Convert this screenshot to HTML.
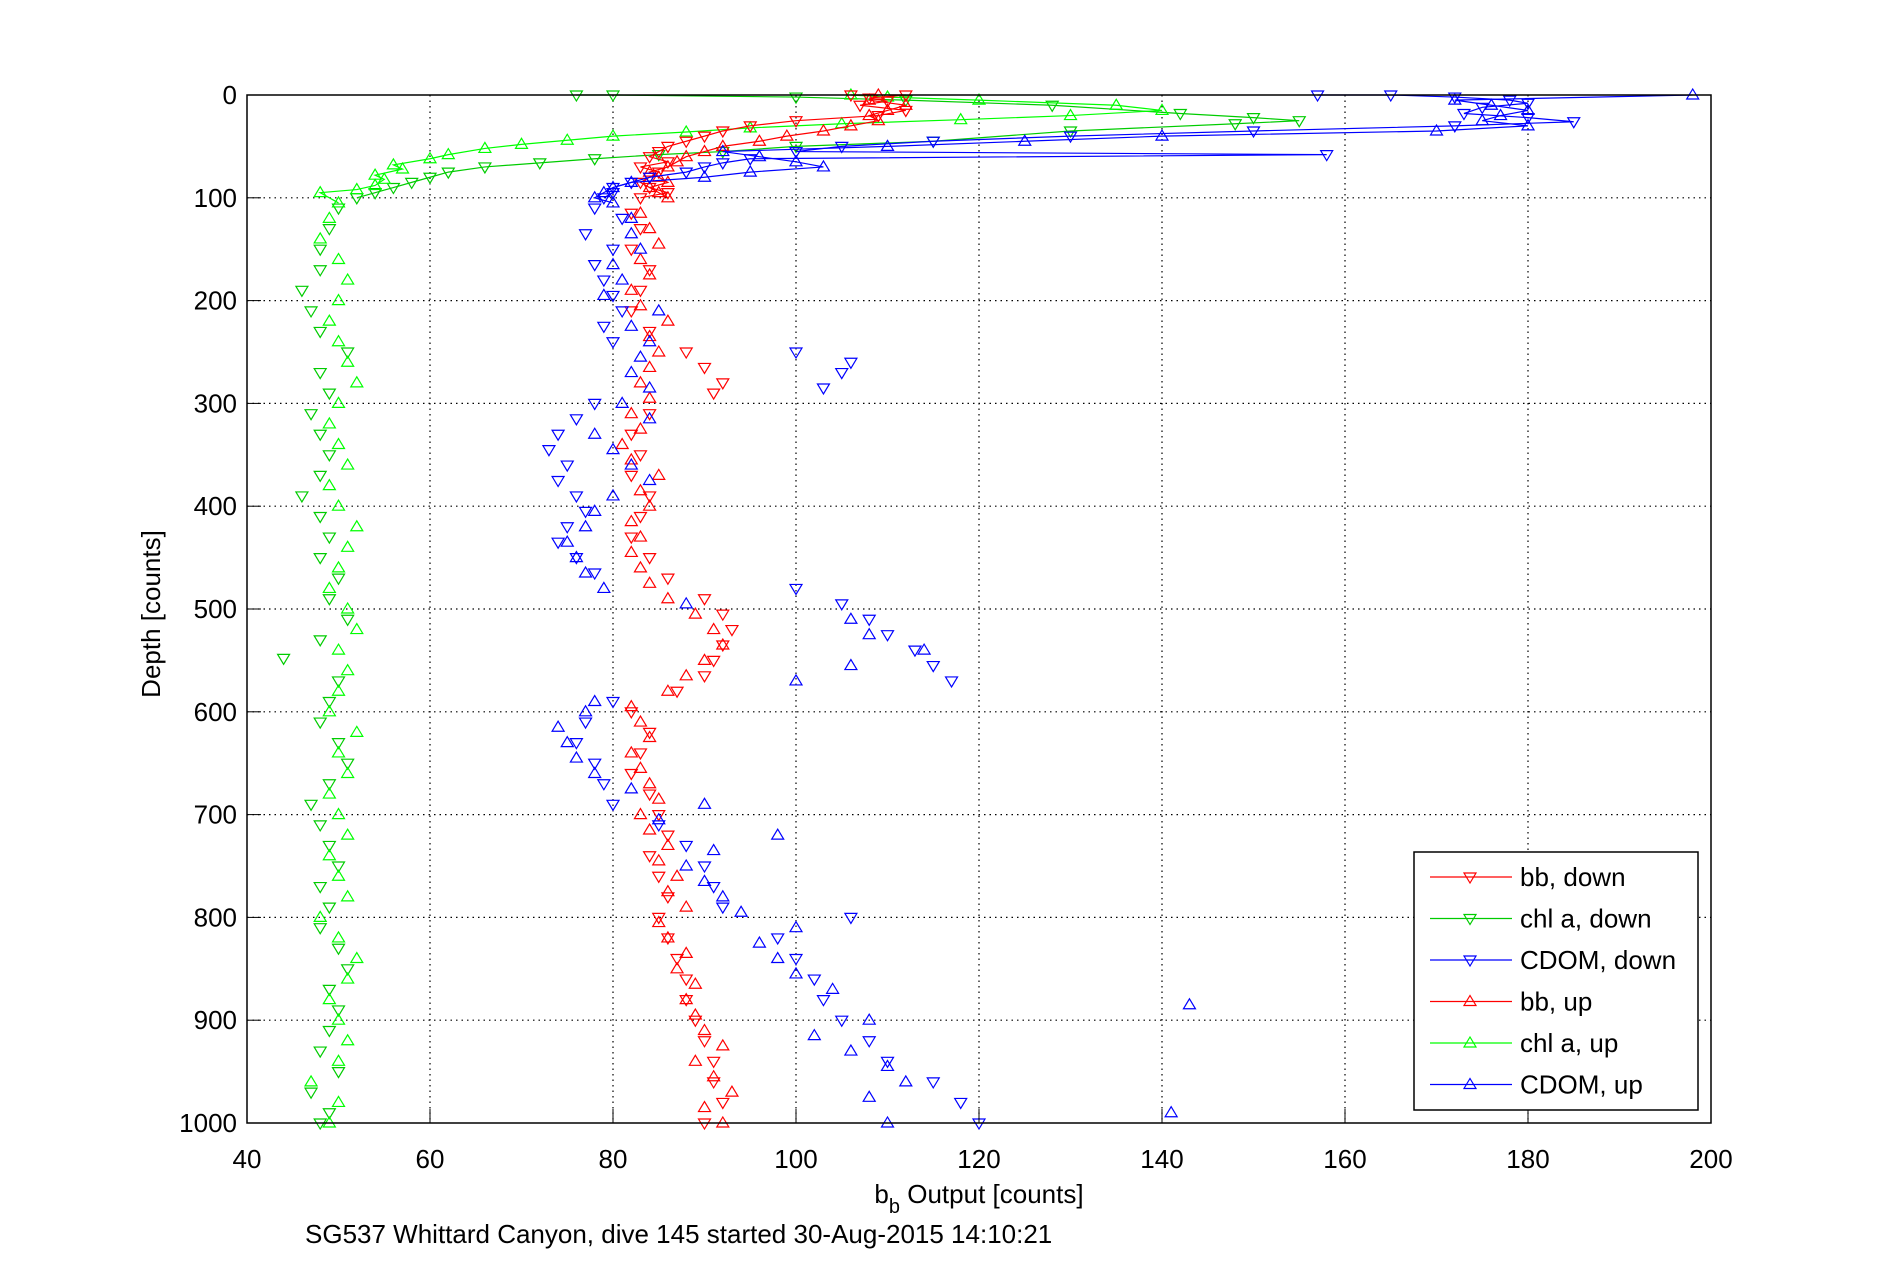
<!DOCTYPE html>
<html><head><meta charset="utf-8"><style>
html,body{margin:0;padding:0;background:#fff;}
svg{display:block;font-family:"Liberation Sans",sans-serif;}
</style></head><body>
<svg id="chart" width="1891" height="1262" viewBox="0 0 1891 1262" xmlns="http://www.w3.org/2000/svg">
<rect x="0" y="0" width="1891" height="1262" fill="#fff"/>
<g id="grid"></g>
<g id="series"></g>
<rect x="247" y="95" width="1464" height="1028" fill="none" stroke="#000" stroke-width="1.5"/>
<g id="ticks"></g>
<text x="979" y="1203" font-size="26" text-anchor="middle">b<tspan font-size="20" dy="10">b</tspan><tspan dy="-10"> Output [counts]</tspan></text>
<text x="0" y="0" font-size="26" text-anchor="middle" transform="translate(160,614) rotate(-90)">Depth [counts]</text>
<text x="305" y="1243" font-size="26">SG537 Whittard Canyon, dive 145 started 30-Aug-2015 14:10:21</text>
<g id="legend"></g>
</svg>
<script>
const xTicks=[40,60,80,100,120,140,160,180,200];
const yTicks=[0,100,200,300,400,500,600,700,800,900,1000];

const chlDownDepth=[0,0,2,5,10,18,22,25,28,35,45,50,55,58,62,66,70,75,80,85,90,95,100,110,130,150,170,190,210,230,250,270,290,310,330,350,370,390,410,430,450,470,490,510,530,548,570,590,610,630,650,670,690,710,730,750,770,790,810,830,850,870,890,910,930,950,970,990,1000];
const chlDownVal=[76,80,100,112,128,142,150,155,148,130,115,100,92,85,78,72,66,62,60,58,56,54,52,50,49,48,48,46,47,48,51,48,49,47,48,49,48,46,48,49,48,50,49,51,48,44,50,49,48,50,51,49,47,48,49,50,48,49,48,50,51,49,50,49,48,50,47,49,48];
const chlUpDepth=[1000,980,960,940,920,900,880,860,840,820,800,780,760,740,720,700,680,660,640,620,600,580,560,540,520,500,480,460,440,420,400,380,360,340,320,300,280,260,240,220,200,180,160,140,120,105,95,92,88,82,78,72,68,62,58,52,48,44,40,36,32,28,24,20,15,10,5,2,0];
const chlUpVal=[49,50,47,50,51,50,49,51,52,50,48,51,50,49,51,50,49,51,50,52,49,50,51,50,52,51,49,50,51,52,50,49,51,50,49,50,52,51,50,49,50,51,50,48,49,50,48,52,54,55,54,57,56,60,62,66,70,75,80,88,95,105,118,130,140,135,120,110,106];
const cdomDownDepth=[0,0,2,5,8,12,18,22,26,30,35,40,45,50,55,58,62,66,70,75,80,85,90,95,100,110,120,135,150,165,180,195,210,225,240,250,260,270,285,300,315,330,345,360,375,390,405,420,435,450,465,480,495,510,525,540,555,570,590,610,630,650,670,690,710,730,750,770,790,800,820,840,860,880,900,920,940,960,980,1000];
const cdomDownVal=[157,165,172,178,180,175,173,180,185,172,150,130,115,105,100,158,95,92,90,88,84,82,80,80,79,78,81,77,80,78,79,80,81,79,80,100,106,105,103,78,76,74,73,75,74,76,77,75,74,76,78,100,105,108,110,113,115,117,80,77,76,78,79,80,85,88,90,91,92,106,98,100,102,103,105,108,110,115,118,120];
const cdomUpDepth=[1000,990,975,960,945,930,915,900,885,870,855,840,825,810,795,780,765,750,735,720,705,690,675,660,645,630,615,600,590,570,555,540,525,510,495,480,465,450,435,420,405,390,375,360,345,330,315,300,285,270,255,240,225,210,195,180,165,150,135,120,105,100,95,90,85,80,75,70,65,60,55,50,45,40,35,30,25,20,15,10,5,0];
const cdomUpVal=[110,141,108,112,110,106,102,108,143,104,100,98,96,100,94,92,90,88,91,98,85,90,82,78,76,75,74,77,78,100,106,114,108,106,88,79,77,76,75,77,78,80,84,82,80,78,84,81,84,82,83,84,82,85,79,81,80,83,82,82,80,78,79,80,82,90,95,103,100,96,92,110,125,140,170,180,175,177,180,176,172,198];
const bbDownDepth=[0,0,3,6,10,15,20,25,30,35,40,45,50,55,60,65,70,75,80,85,90,95,100,115,130,150,170,190,210,230,250,265,280,290,310,330,350,370,390,410,430,450,470,490,505,520,535,550,565,580,600,620,640,660,680,700,720,740,760,780,800,820,840,860,880,900,920,940,960,980,1000];
const bbDownVal=[106,112,108,110,107,112,109,100,95,92,90,88,86,85,84,86,83,85,84,83,84,86,83,82,83,82,84,83,82,84,88,90,92,91,84,82,83,82,84,83,82,84,86,90,92,93,92,91,90,87,82,84,83,82,84,85,86,84,85,86,85,86,87,88,88,89,90,91,91,92,90];
const bbUpDepth=[1000,985,970,955,940,925,910,895,880,865,850,835,820,805,790,775,760,745,730,715,700,685,670,655,640,625,610,595,580,565,550,535,520,505,490,475,460,445,430,415,400,385,370,355,340,325,310,295,280,265,250,235,220,205,190,175,160,145,130,115,100,95,90,85,80,75,70,65,60,55,50,45,40,35,30,25,20,15,10,5,0];
const bbUpVal=[92,90,93,91,89,92,90,89,88,89,87,88,86,85,88,86,87,85,86,84,83,85,84,83,82,84,83,82,86,88,90,92,91,89,86,84,83,82,83,82,84,83,85,82,81,83,82,84,83,84,85,84,86,83,82,84,83,85,84,83,86,85,84,86,85,84,86,87,88,90,92,96,99,103,106,109,108,110,112,108,109];

const X0=247,X1=1711,Y0=95,Y1=1123;
const xs=v=>X0+(v-40)/160*(X1-X0);
const ys=d=>Y0+d/1000*(Y1-Y0);
const NS="http://www.w3.org/2000/svg";
function mk(tag,parent){const e=document.createElementNS(NS,tag);parent.appendChild(e);return e;}
const grid=document.getElementById('grid'),ticks=document.getElementById('ticks');
xTicks.forEach(t=>{
  const x=xs(t);
  if(t>40&&t<200){const g=mk('line',grid);
  
  
  g.setAttribute('x1',x);g.setAttribute('x2',x);g.setAttribute('y1',Y0);g.setAttribute('y2',Y1);
  g.setAttribute('stroke','#000');g.setAttribute('stroke-dasharray','1.5 4');g.setAttribute('stroke-width','1.2');}
  const tk=mk('line',ticks);
  
  
  tk.setAttribute('x1',x);tk.setAttribute('x2',x);tk.setAttribute('y1',Y1);tk.setAttribute('y2',Y1-14);tk.setAttribute('stroke','#000');
  const lb=mk('text',ticks);
  
  
  lb.setAttribute('x',x);lb.setAttribute('y',1168);lb.setAttribute('font-size','26');lb.setAttribute('text-anchor','middle');lb.textContent=t;
});
yTicks.forEach(t=>{
  const y=ys(t);
  if(t>0&&t<1000){const g=mk('line',grid);
  
  
  g.setAttribute('x1',X0);g.setAttribute('x2',X1);g.setAttribute('y1',y);g.setAttribute('y2',y);
  g.setAttribute('stroke','#000');g.setAttribute('stroke-dasharray','1.5 4');g.setAttribute('stroke-width','1.2');}
  if(t===0){const g=mk('line',grid);
  
  
  g.setAttribute('x1',X0);g.setAttribute('x2',X1);g.setAttribute('y1',y);g.setAttribute('y2',y);
  g.setAttribute('stroke','#000');g.setAttribute('stroke-dasharray','1.5 4');}
  const tk=mk('line',ticks);
  
  
  tk.setAttribute('x1',X0);tk.setAttribute('x2',X0+14);tk.setAttribute('y1',y);tk.setAttribute('y2',y);tk.setAttribute('stroke','#000');
  const lb=mk('text',ticks);
  
  
  lb.setAttribute('x',X0-10);lb.setAttribute('y',y+9);lb.setAttribute('font-size','26');lb.setAttribute('text-anchor','end');lb.textContent=t;
});
function tri(cx,cy,down){const r=6;return down?`${cx-r},${cy-4} ${cx+r},${cy-4} ${cx},${cy+6}`:`${cx-r},${cy+4} ${cx+r},${cy+4} ${cx},${cy-6}`;}
const ser=document.getElementById('series');
function drawSeries(name,depths,vals,color,down){
  const g=mk('g',ser);
  
  
  let pts=[];
  depths.forEach((d,i)=>{if(d<=105)pts.push(xs(vals[i])+','+ys(d));});
  const pl=mk('polyline',g);
  
  
  pl.setAttribute('points',pts.join(' '));pl.setAttribute('fill','none');pl.setAttribute('stroke',color);pl.setAttribute('stroke-width','1.2');
  depths.forEach((d,i)=>{
    const p=mk('polygon',g);
    
    
    p.setAttribute('points',tri(xs(vals[i]),ys(d),down));p.setAttribute('fill','none');p.setAttribute('stroke',color);p.setAttribute('stroke-width','1.2');
  });
}
drawSeries('chl-a-down',chlDownDepth,chlDownVal,'#00cc00',true);
drawSeries('chl-a-up',chlUpDepth,chlUpVal,'#00ff00',false);
drawSeries('bb-down',bbDownDepth,bbDownVal,'#ff0000',true);
drawSeries('bb-up',bbUpDepth,bbUpVal,'#ff0000',false);
drawSeries('cdom-down',cdomDownDepth,cdomDownVal,'#0000ff',true);
drawSeries('cdom-up',cdomUpDepth,cdomUpVal,'#0000ff',false);

const legendLabels=['bb, down','chl a, down','CDOM, down','bb, up','chl a, up','CDOM, up'];
const legendColors=['#ff0000','#00cc00','#0000ff','#ff0000','#00ff00','#0000ff'];
const leg=document.getElementById('legend');
const box=mk('rect',leg);


box.setAttribute('x',1414);box.setAttribute('y',852);box.setAttribute('width',284);box.setAttribute('height',258);box.setAttribute('fill','#fff');box.setAttribute('stroke','#000');box.setAttribute('stroke-width','1.5');
legendLabels.forEach((l,i)=>{
  const y=877+i*41.5;
  const g=mk('g',leg);
  
  
  const ln=mk('line',g);
  
  
  ln.setAttribute('x1',1430);ln.setAttribute('x2',1512);ln.setAttribute('y1',y);ln.setAttribute('y2',y);ln.setAttribute('stroke',legendColors[i]);ln.setAttribute('stroke-width','1.2');
  const m=mk('polygon',g);
  
  
  m.setAttribute('points',tri(1470,y,i<3));m.setAttribute('fill','none');m.setAttribute('stroke',legendColors[i]);m.setAttribute('stroke-width','1.2');
  const t=mk('text',g);
  
  
  t.setAttribute('x',1520);t.setAttribute('y',y+9);t.setAttribute('font-size','26');t.textContent=l;
});
</script>
</body></html>
